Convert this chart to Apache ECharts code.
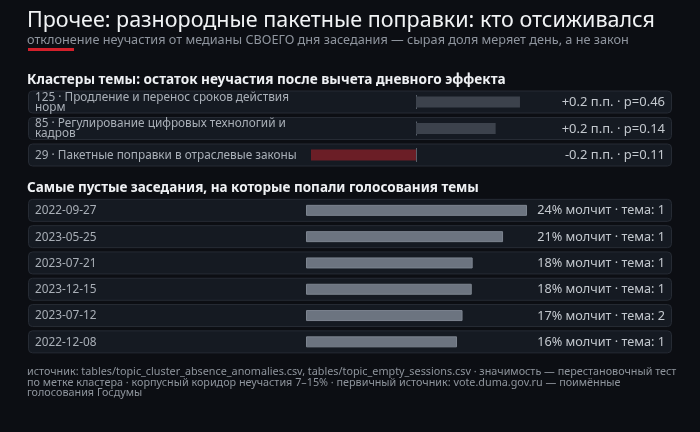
<!DOCTYPE html>
<html><head><meta charset="utf-8">
<script src="https://cdn.jsdelivr.net/npm/echarts@6/dist/echarts.min.js"></script>
<style>html,body{margin:0;padding:0;background:#0c0e13;}#c{width:700px;height:432px;}</style>
</head><body><div id="c"></div>
<script>
const FONT = '"Noto Sans", "Open Sans", sans-serif';
const titleText = 'Прочее: разнородные пакетные поправки: кто отсиживался';
const subtitleText = 'отклонение неучастия от медианы СВОЕГО дня заседания — сырая доля меряет день, а не закон';
const clusterHeading = 'Кластеры темы: остаток неучастия после вычета дневного эффекта';
const clusterLabels = ['125 · Продление и перенос сроков действия\nнорм', '85 · Регулирование цифровых технологий и\nкадров', '29 · Пакетные поправки в отраслевые законы'];
const clusterValues = [0.205, 0.157, -0.207];
const clusterP = [0.46, 0.14, 0.11];
const sessionHeading = 'Самые пустые заседания, на которые попали голосования темы';
const sessionDates = ['2022-09-27', '2023-05-25', '2023-07-21', '2023-12-15', '2023-07-12', '2022-12-08'];
const sessionShares = [0.240, 0.214, 0.181, 0.180, 0.170, 0.164];
const sessionTopics = [1, 1, 1, 1, 2, 1];
const footerText = 'источник: tables/topic_cluster_absence_anomalies.csv, tables/topic_empty_sessions.csv · значимость — перестановочный тест\nпо метке кластера · корпусный коридор неучастия 7–15% · первичный источник: vote.duma.gov.ru — поимённые\nголосования Госдумы';

const clusterText = clusterValues.map((v, i) => (v >= 0 ? '+' : '') + v.toFixed(1) + ' п.п. · p=' + clusterP[i].toFixed(2));
const sessionText = sessionShares.map((v, i) => Math.round(v * 100) + '% молчит · тема: ' + sessionTopics[i]);
const maxAbs = Math.max(...clusterValues.map(Math.abs));

function rowRenderer(labels, rightTexts, withZero, rightSize) {
  return function (params, api) {
    const i = api.value(1);
    const c = api.coord([0, i]);
    const y = c[1];
    const children = [
      { type: 'rect', shape: { x: 28.5, y: y - 11, width: 643, height: 22, r: 4 },
        style: { fill: '#151a22', stroke: '#262b34', lineWidth: 1 } },
      { type: 'text', style: { x: 35, y: y + 0.5, text: labels[i], fill: '#a9afb7', font: '11.8px ' + FONT,
        verticalAlign: 'middle', align: 'left', lineHeight: 10 } },
      { type: 'text', style: { x: 665, y: y + 0.5, text: rightTexts[i], fill: '#c3c8ce', font: rightSize + 'px ' + FONT,
        verticalAlign: 'middle', align: 'right' } }
    ];
    if (withZero) {
      children.push({ type: 'line', shape: { x1: c[0] + 0.5, y1: y - 7, x2: c[0] + 0.5, y2: y + 7 },
        style: { stroke: '#59606a', lineWidth: 1 }, z2: 10 });
    }
    return { type: 'group', children };
  };
}

const chart = echarts.init(document.getElementById('c'), null, { renderer: 'canvas' });
chart.setOption({
  backgroundColor: '#0c0e13',
  animation: false,
  title: [
    { text: titleText, left: 22, top: 5, textStyle: { fontSize: 21.5, fontWeight: 'normal', color: '#f1f3f5', fontFamily: FONT } },
    { text: subtitleText, left: 22, top: 28.5, textStyle: { fontSize: 12.7, fontWeight: 'normal', color: '#8f959e', fontFamily: FONT } },
    { text: clusterHeading, left: 22, top: 68, textStyle: { fontSize: 13.6, fontWeight: 'bold', color: '#eef0f3', fontFamily: FONT } },
    { text: sessionHeading, left: 22, top: 176, textStyle: { fontSize: 13.5, fontWeight: 'bold', color: '#eef0f3', fontFamily: FONT } },
    { text: footerText, left: 22, top: 362, textStyle: { fontSize: 10.8, fontWeight: 'normal', color: '#8e949c', fontFamily: FONT, lineHeight: 10.5 } }
  ],
  graphic: [
    { type: 'rect', shape: { x: 28, y: 48, width: 46, height: 3 }, style: { fill: '#d3202b' } }
  ],
  grid: [
    { left: 311, top: 88.75, width: 210, height: 79.5 },
    { left: 306, top: 197.2, width: 221, height: 157.8 }
  ],
  xAxis: [
    { gridIndex: 0, type: 'value', min: -maxAbs, max: maxAbs, show: false },
    { gridIndex: 1, type: 'value', min: 0, max: Math.max(...sessionShares), show: false }
  ],
  yAxis: [
    { gridIndex: 0, type: 'category', data: clusterLabels, inverse: true, show: false },
    { gridIndex: 1, type: 'category', data: sessionDates, inverse: true, show: false }
  ],
  series: [
    { type: 'custom', xAxisIndex: 0, yAxisIndex: 0, z: 1, silent: true,
      renderItem: rowRenderer(clusterLabels, clusterText, true, 13),
      encode: { x: 0, y: 1 },
      data: clusterLabels.map((l, i) => [0, i]) },
    { type: 'bar', xAxisIndex: 0, yAxisIndex: 0, z: 2, barWidth: 11,
      data: clusterValues.map(v => ({ value: v, itemStyle: { color: v < 0 ? '#6b1e26' : '#3c424c' } })) },
    { type: 'custom', xAxisIndex: 1, yAxisIndex: 1, z: 1, silent: true,
      renderItem: rowRenderer(sessionDates, sessionText, false, 12.7),
      encode: { x: 0, y: 1 },
      data: sessionDates.map((l, i) => [0, i]) },
    { type: 'bar', xAxisIndex: 1, yAxisIndex: 1, z: 2, barWidth: 11,
      itemStyle: { color: '#6c7480', borderColor: '#7c848f', borderWidth: 1 },
      data: sessionShares }
  ]
});
</script></body></html>
